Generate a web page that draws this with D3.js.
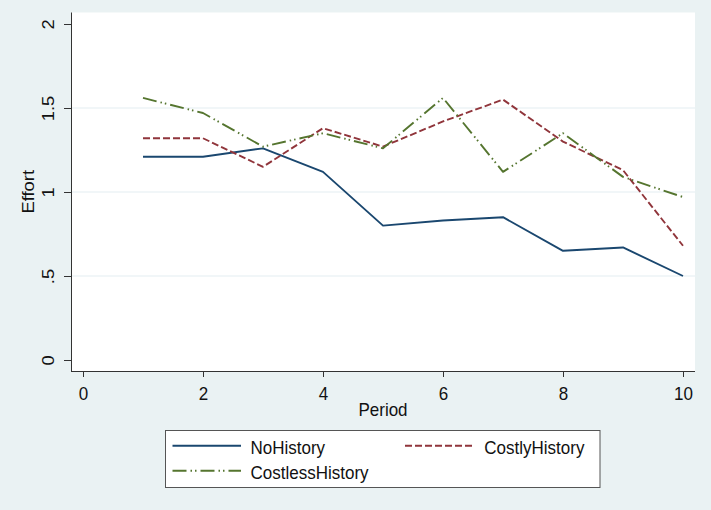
<!DOCTYPE html>
<html>
<head>
<meta charset="utf-8">
<script src="https://cdn.jsdelivr.net/npm/d3@7"></script>
<style>
  html, body { margin: 0; padding: 0; background: #eaf2f3; }
  svg { display: block; font-family: "Liberation Sans", Arial, sans-serif; }
</style>
</head>
<body>
<svg id="chart" width="711" height="510"></svg>
<script>
// data
const periods = [1, 2, 3, 4, 5, 6, 7, 8, 9, 10];
const noHistory = [1.21, 1.21, 1.26, 1.12, 0.80, 0.83, 0.85, 0.65, 0.67, 0.50];
const costlyHistory = [1.32, 1.32, 1.15, 1.38, 1.27, 1.42, 1.55, 1.30, 1.13, 0.68];
const costlessHistory = [1.56, 1.47, 1.27, 1.35, 1.26, 1.56, 1.12, 1.35, 1.09, 0.97];
const seriesNames = ['NoHistory', 'CostlyHistory', 'CostlessHistory'];
const xTicks = [0, 2, 4, 6, 8, 10];
const yTicks = [0, 0.5, 1, 1.5, 2];
const gridTicks = [0.5, 1, 1.5];

const width = 711;
const height = 510;
const fontSize = 17;
const stretch = 1.08; // text in the picture is a bit taller than wide
// plot region
const plot = { left: 71, right: 695, top: 12.5, bottom: 371 };

const styles = [
  { color: '#1a476f', dash: null },
  { color: '#90353b', dash: '7,3' },
  { color: '#55752f', dash: '14,4,1.5,3,1.5,4' }
];

const svg = d3.select('#chart');

svg.append('rect')
  .attr('width', width)
  .attr('height', height)
  .attr('fill', '#eaf2f3');

svg.append('rect')
  .attr('x', plot.left)
  .attr('y', plot.top)
  .attr('width', plot.right - plot.left)
  .attr('height', plot.bottom - plot.top)
  .attr('fill', '#fff');

const x = d3.scaleLinear().domain([0, 10]).range([83, 683]);
const y = d3.scaleLinear().domain([0, 2]).range([360, 24]);

// grid
svg.append('g')
  .selectAll('line')
  .data(gridTicks)
  .enter()
  .append('line')
  .attr('x1', plot.left)
  .attr('x2', plot.right)
  .attr('y1', d => y(d))
  .attr('y2', d => y(d))
  .attr('stroke', '#e4edf1')
  .attr('stroke-width', 1.2);

// axes
function fmt(d) {
  return d === 0 ? '0' : String(d).replace(/^0\./, '.');
}

const yAxis = svg.append('g')
  .attr('transform', `translate(${plot.left},0)`)
  .call(d3.axisLeft(y).tickValues(yTicks).tickFormat(fmt).tickSize(7).tickSizeOuter(0));
yAxis.select('.domain').attr('d', `M0.5,${plot.top}V${plot.bottom}`).attr('stroke', '#333');
yAxis.selectAll('.tick line').attr('stroke', '#333');
yAxis.selectAll('.tick text')
  .attr('x', 0)
  .attr('dy', 0)
  .attr('text-anchor', 'middle')
  .attr('transform', `translate(-17.5,0) scale(1,${stretch}) rotate(-90)`)
  .attr('font-size', fontSize)
  .attr('font-family', '"Liberation Sans", Arial, sans-serif')
  .attr('fill', '#111');

const xAxis = svg.append('g')
  .attr('transform', `translate(0,${plot.bottom})`)
  .call(d3.axisBottom(x).tickValues(xTicks).tickSize(6).tickSizeOuter(0));
xAxis.select('.domain').attr('d', `M${plot.left},0.5H${plot.right}`).attr('stroke', '#333');
xAxis.selectAll('.tick line').attr('stroke', '#333');
xAxis.selectAll('.tick text')
  .attr('y', 0)
  .attr('dy', 0)
  .attr('transform', `translate(0,28.5) scale(1,${stretch})`)
  .attr('font-size', fontSize)
  .attr('font-family', '"Liberation Sans", Arial, sans-serif')
  .attr('fill', '#111');

// axis titles
svg.append('text')
  .attr('transform', `translate(${(plot.left + plot.right) / 2},415.5) scale(1,${stretch})`)
  .attr('text-anchor', 'middle')
  .attr('font-size', fontSize)
  .attr('fill', '#111')
  .text('Period');

svg.append('text')
  .attr('transform', `translate(33.5,${(plot.top + plot.bottom) / 2}) scale(1,${stretch}) rotate(-90)`)
  .attr('text-anchor', 'middle')
  .attr('font-size', fontSize)
  .attr('fill', '#111')
  .text('Effort');

// lines
const line = d3.line()
  .x(d => x(d[0]))
  .y(d => y(d[1]));

[noHistory, costlyHistory, costlessHistory].forEach((vals, i) => {
  svg.append('path')
    .datum(periods.map((p, j) => [p, vals[j]]))
    .attr('fill', 'none')
    .attr('stroke', styles[i].color)
    .attr('stroke-width', 1.9)
    .attr('stroke-dasharray', styles[i].dash)
    .attr('stroke-linejoin', 'round')
    .attr('d', line);
});

// legend
const legend = svg.append('g');
legend.append('rect')
  .attr('x', 165.5)
  .attr('y', 430.5)
  .attr('width', 434.5)
  .attr('height', 57)
  .attr('fill', '#fff')
  .attr('stroke', '#555');

const legendPos = [
  { kx: 172.5, ky: 445.7, tx: 250.5 },
  { kx: 405, ky: 445.7, tx: 484.3 },
  { kx: 172.5, ky: 470.7, tx: 250.5 }
];

seriesNames.forEach((name, i) => {
  const p = legendPos[i];
  legend.append('line')
    .attr('x1', p.kx)
    .attr('x2', p.kx + 68.5)
    .attr('y1', p.ky)
    .attr('y2', p.ky)
    .attr('stroke', styles[i].color)
    .attr('stroke-width', 1.9)
    .attr('stroke-dasharray', styles[i].dash);
  legend.append('text')
    .attr('transform', `translate(${p.tx},${p.ky + 7.8}) scale(1,${stretch})`)
    .attr('font-size', fontSize)
    .attr('fill', '#111')
    .text(name);
});
</script>
</body>
</html>
